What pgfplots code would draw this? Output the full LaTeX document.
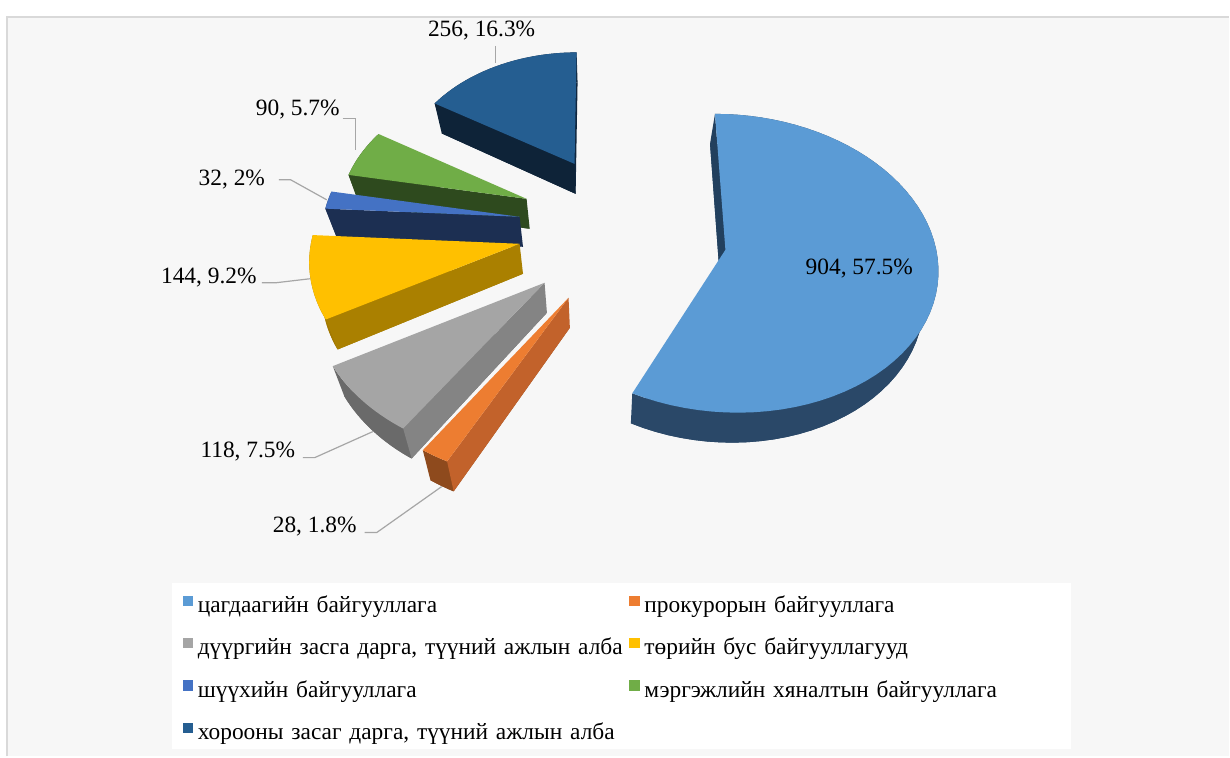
\documentclass[border=0pt]{standalone}
\usepackage{fontspec}
\setmainfont{Liberation Serif}
\usepackage{pgfplots}
\pgfplotsset{compat=1.18}

\definecolor{cA}{HTML}{5B9BD5}\definecolor{cAw}{HTML}{2A4868}\definecolor{cAr}{HTML}{22405E}
\definecolor{cB}{HTML}{ED7D31}\definecolor{cBw}{HTML}{8E4A1D}\definecolor{cBr}{HTML}{C2622B}
\definecolor{cC}{HTML}{A5A5A5}\definecolor{cCw}{HTML}{6A6A6A}\definecolor{cCr}{HTML}{848484}
\definecolor{cD}{HTML}{FFC000}\definecolor{cDw}{HTML}{A27800}\definecolor{cDr}{HTML}{AA8000}
\definecolor{cE}{HTML}{4472C4}\definecolor{cEw}{HTML}{1E3158}\definecolor{cEr}{HTML}{1C2F52}
\definecolor{cF}{HTML}{70AD47}\definecolor{cFw}{HTML}{2C471C}\definecolor{cFr}{HTML}{2E4A1E}
\definecolor{cG}{HTML}{255E91}\definecolor{cGw}{HTML}{10263E}\definecolor{cGr}{HTML}{0E2338}
\definecolor{bgc}{HTML}{F7F7F7}\definecolor{bordc}{HTML}{D9D9D9}\definecolor{leadc}{HTML}{A6A6A6}

% data (counts)
\def\vA{904}\def\vB{28}\def\vC{118}\def\vD{144}\def\vE{32}\def\vF{90}\def\vG{256}
\pgfmathsetmacro\tot{\vA+\vB+\vC+\vD+\vE+\vF+\vG}
\pgfmathsetmacro\kA{90}
\pgfmathsetmacro\kB{\kA-\vA/\tot*360}
\pgfmathsetmacro\kC{\kB-\vB/\tot*360}
\pgfmathsetmacro\kD{\kC-\vC/\tot*360}
\pgfmathsetmacro\kE{\kD-\vD/\tot*360}
\pgfmathsetmacro\kF{\kE-\vE/\tot*360}
\pgfmathsetmacro\kG{\kF-\vF/\tot*360}
\pgfmathsetmacro\kH{\kG-\vG/\tot*360}

\newcommand\lbl{\fontsize{11.7}{14}\selectfont}

% #1 start angle, #2 end angle, #3 apex x, #4 apex y, #5 scale, #6 top, #7 wall, #8 radial face
\newcommand{\slice}[8]{%
 \addplot[forget plot, draw=none, fill=#7, variable=\t, domain=0:2, samples=121]
  ({botx(angt(\t,#1,#2),radr(\t),#3,#5)},{boty(angt(\t,#1,#2),radr(\t),#4,#5)});
 \addplot[forget plot, draw=none, fill=#7, variable=\t, domain=0:2, samples=121]
  ({wallx(\t,#1,#2,#3,#5)},{wally(\t,#1,#2,#4,#5)});
 \addplot[forget plot, draw=none, fill=#8, variable=\t, samples at={0,1,1.0001,2}]
  ({radx(\t,#2,#3,#5)},{rady(\t,#2,#4,#5)});
 \addplot[forget plot, draw=none, fill=#6, variable=\t, domain=0:2, samples=121]
  ({topx(angt(\t,#1,#2),radr(\t),#3,#5)},{topy(angt(\t,#1,#2),radr(\t),#4,#5)});
}

\begin{document}
\begin{tikzpicture}[declare function={
  topx(\ta,\ra,\xa,\sa)=600+((\xa)-600+(\sa)*211*(\ra)*cos(\ta))/(1+0.0903*(\ra)*sin(\ta));
  topy(\tb,\rb,\yb,\sb)=(\yb)-(\sb)*148.3*(\rb)*sin(\tb)/(1+0.0903*(\rb)*sin(\tb));
  botx(\tc,\rc,\xc,\sc)=0.957*topx(\tc,\rc,\xc,\sc)+25.8;
  boty(\td,\rd,\yd,\sd)=topy(\td,\rd,\yd,\sd)+30;
  angt(\ue,\pe,\qe)=(\pe)+max((\ue)-1,0)*((\qe)-(\pe));
  radr(\uf)=min(\uf,1);
  wallx(\ug,\pg,\qg,\xg,\sg)=ifthenelse(\ug<1.00005, topx((\pg)+(\ug)*((\qg)-(\pg)),1,\xg,\sg), botx((\qg)-((\ug)-1)*((\qg)-(\pg)),1,\xg,\sg));
  wally(\uh,\ph,\qh,\yh,\sh)=ifthenelse(\uh<1.00005, topy((\ph)+(\uh)*((\qh)-(\ph)),1,\yh,\sh), boty((\qh)-((\uh)-1)*((\qh)-(\ph)),1,\yh,\sh));
  radx(\ui,\qi,\xi,\si)=ifthenelse(\ui<1.00005, topx(\qi,1-(\ui),\xi,\si), botx(\qi,(\ui)-1,\xi,\si));
  rady(\uj,\qj,\yj,\sj)=ifthenelse(\uj<1.00005, topy(\qj,1-(\uj),\yj,\sj), boty(\qj,(\uj)-1,\yj,\sj));
}]
% background
\fill[white] (0,0) rectangle (615pt,378.5pt);
\fill[bgc] (3.5pt,0) rectangle (615pt,370pt);
\draw[bordc, line width=1pt] (3.5pt,0) -- (3.5pt,370pt) -- (615pt,370pt);
\fill[white] (86pt,3.5pt) rectangle (536pt,87pt);

\begin{axis}[
  scale only axis, width=615pt, height=378.5pt,
  xmin=0, xmax=1230, ymin=0, ymax=757, y dir=reverse,
  hide axis, clip=false,
  legend columns=2,
  legend cell align=left,
  legend image code/.code={\fill[#1] (0pt,0.4pt) rectangle (5.2pt,5.6pt);},
  legend style={at={(axis cs:183,596)}, anchor=north west, draw=none, fill=none,
    inner sep=0pt, outer sep=0pt, font=\lbl,
    nodes={inner sep=0pt, text height=8.2pt, text depth=2.5pt, text width=214pt, align=left},
    row sep=10.25pt,
    /tikz/every odd column/.append style={column sep=2.3pt},
    /tikz/every even column/.append style={column sep=2pt}},
]
\slice{\kH}{\kG}{575}{164}{0.82}{cG}{cGw}{cGr}
\slice{\kG}{\kF}{527}{199}{0.88}{cF}{cFw}{cFr}
\slice{\kF}{\kE}{520}{217}{0.93}{cE}{cEw}{cEr}
\slice{\kE}{\kD}{520}{244}{0.99}{cD}{cDw}{cDr}
\slice{\kD}{\kC}{545}{283}{1.09}{cC}{cCw}{cCr}
\slice{\kC}{\kB}{569}{298}{1.14}{cB}{cBw}{cBr}
\slice{\kB}{\kA}{726}{250}{1.0}{cA}{cAw}{cAr}

% leader lines
\addplot[forget plot, leadc, line width=0.6pt] coordinates {(496,46) (496,63)};
\addplot[forget plot, leadc, line width=0.6pt] coordinates {(343,119) (356,119) (356,150)};
\addplot[forget plot, leadc, line width=0.6pt] coordinates {(279,180) (291,180) (327,200)};
\addplot[forget plot, leadc, line width=0.6pt] coordinates {(262,283) (276,283) (310,279)};
\addplot[forget plot, leadc, line width=0.6pt] coordinates {(303,458) (315,458) (373,432)};
\addplot[forget plot, leadc, line width=0.6pt] coordinates {(365,533) (377,533) (442,487)};

% data labels
\node[font=\lbl] at (axis cs:860,269) {904, 57.5\%};
\node[font=\lbl] at (axis cs:482,31) {256, 16.3\%};
\node[font=\lbl] at (axis cs:298,110) {90, 5.7\%};
\node[font=\lbl] at (axis cs:232,180) {32, 2\%};
\node[font=\lbl] at (axis cs:209,278) {144, 9.2\%};
\node[font=\lbl] at (axis cs:248,452) {118, 7.5\%};
\node[font=\lbl] at (axis cs:315,527) {28, 1.8\%};

\addlegendimage{fill=cA, draw=none}\addlegendentry{цагдаагийн байгууллага}
\addlegendimage{fill=cB, draw=none}\addlegendentry{прокурорын байгууллага}
\addlegendimage{fill=cC, draw=none}\addlegendentry{дүүргийн засга дарга, түүний ажлын алба}
\addlegendimage{fill=cD, draw=none}\addlegendentry{төрийн бус байгууллагууд}
\addlegendimage{fill=cE, draw=none}\addlegendentry{шүүхийн байгууллага}
\addlegendimage{fill=cF, draw=none}\addlegendentry{мэргэжлийн хяналтын байгууллага}
\addlegendimage{fill=cG, draw=none}\addlegendentry{хорооны засаг дарга, түүний ажлын алба}
\end{axis}
\end{tikzpicture}
\end{document}
